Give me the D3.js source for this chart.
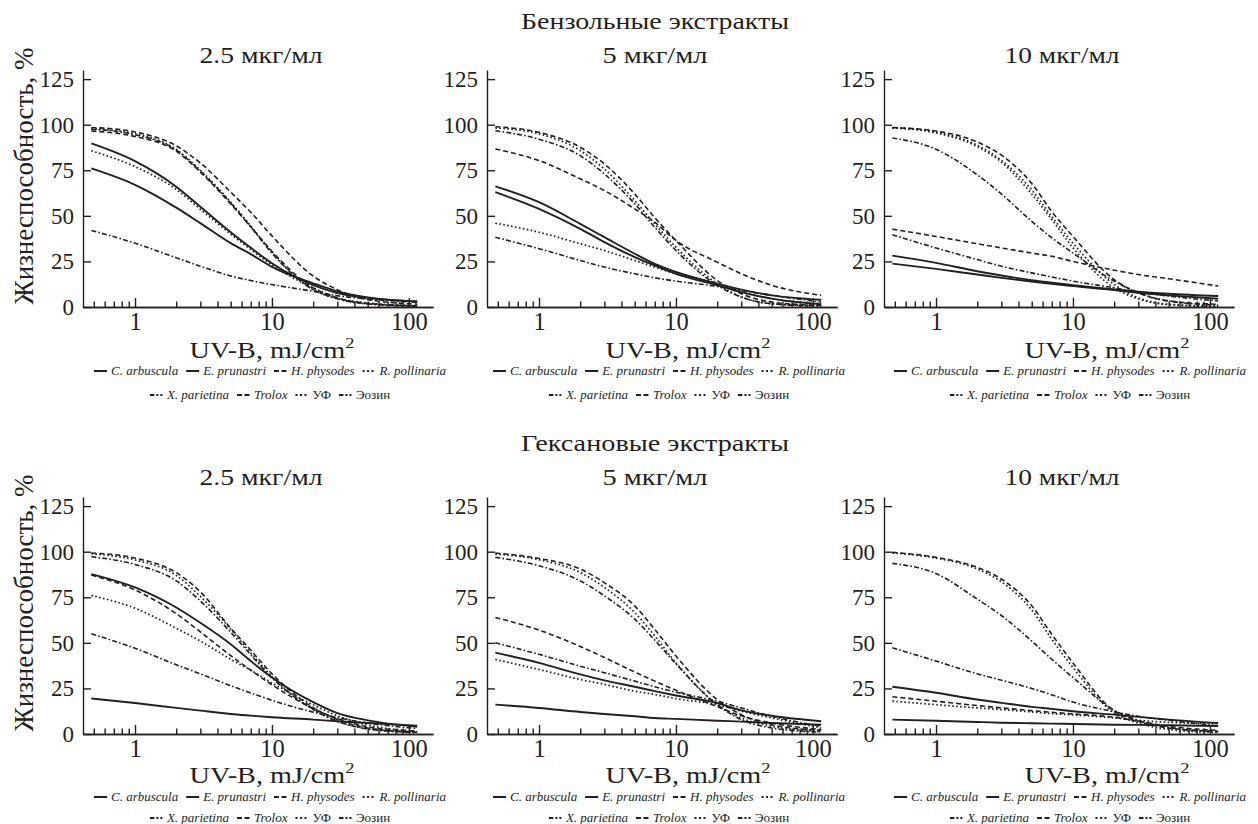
<!DOCTYPE html>
<html>
<head>
<meta charset="utf-8">
<script src="https://cdn.jsdelivr.net/npm/d3@7"></script>
<style>
  body { margin: 0; background: #fff; }
  svg { display: block; }
  text { font-family: "Liberation Serif", "Times New Roman", Times, serif; fill: #231f20; }
</style>
</head>
<body>
<svg id="chart" width="1258" height="824"></svg>
<script>
// ---------- data ----------
const doses = [0.48, 1, 2, 3, 5, 7, 10, 20, 30, 50, 115];   // UV-B, mJ/cm2
const seriesNames = ["C. arbuscula", "E. prunastri", "H. physodes", "R. pollinaria",
                     "X. parietina", "Trolox", "УФ", "Эозин"];
const groupTitles = ["Бензольные экстракты", "Гексановые экстракты"];
const concLabels = ["2.5 мкг/мл", "5 мкг/мл", "10 мкг/мл"];
const yTicks = [0, 25, 50, 75, 100, 125];
const xMajorTicks = [1, 10, 100];
const xMinorTicks = [0.5, 0.6, 0.7, 0.8, 0.9, 2, 3, 4, 5, 6, 7, 8, 9, 20, 30, 40, 50, 60, 70, 80, 90];

// viability, %, one row per series (order of seriesNames), one value per dose
const benzene25 = [
  [89.7, 80, 66, 55, 41, 32.5, 24, 12, 7.7, 5, 3],
  [76, 67, 54.5, 46, 35, 29, 22, 13, 8.6, 5.3, 3],
  [96.5, 93.5, 85.5, 74, 56.5, 44, 30.5, 10.5, 5, 2, 0.6],
  [85.7, 77, 64.5, 53.6, 40, 31.5, 23, 10.5, 5, 2.2, 0.7],
  [42, 35, 27, 22.4, 17, 14.5, 12.3, 8.6, 6.2, 4.4, 2.6],
  [98.5, 96, 88.4, 79, 63, 52, 39, 17, 9.5, 4, 1.6],
  [97.8, 95, 86.5, 75, 57.5, 44.5, 30, 9.5, 4.5, 1.7, 0.5],
  [97.5, 94.5, 86, 74.5, 57, 44, 29.5, 9.5, 4.5, 1.7, 0.5]
];
const benzene5 = [
  [66.2, 57.5, 45.6, 38.3, 29.2, 23.7, 19.2, 12.8, 9.5, 6.4, 4],
  [63, 53.8, 42.9, 35.6, 27.4, 22.8, 18.2, 11.9, 8.2, 4.6, 1.5],
  [86.7, 80.3, 70.3, 63.9, 53.8, 46.5, 36.5, 24.6, 18.2, 11.9, 6.4],
  [46, 41, 34.7, 31, 25.5, 21.9, 18.2, 12.8, 8.2, 4.6, 1.8],
  [38.3, 32, 25.5, 21.9, 18.2, 16, 14.2, 11.3, 9.1, 6.4, 2.7],
  [98.9, 95.8, 87.6, 78.5, 62, 49, 36.5, 14.6, 7.3, 2.7, 0.9],
  [98.2, 95, 85.8, 75.7, 58.4, 45.6, 32.8, 12.8, 5.5, 1.8, 0.5],
  [96.7, 92, 83, 73, 56.6, 43.8, 31, 11.9, 5.5, 1.8, 0.5]
];
const benzene10 = [
  [28.2, 24.2, 19.6, 17.3, 14.7, 13.3, 12, 9.6, 8.4, 7.3, 6],
  [23.8, 20.9, 17.8, 16, 14, 12.7, 11.5, 9.3, 7.8, 6.4, 4.5],
  [42.7, 38.7, 34.7, 32.4, 29.6, 27.8, 25, 20.2, 17.8, 15.5, 11.5],
  [98.2, 95.5, 88, 79.5, 62, 48, 32.5, 10.5, 4.5, 1.3, 0.4],
  [39.6, 32.4, 26, 22.4, 18.7, 16.5, 14.2, 10.5, 8.2, 6, 3.3],
  [98.4, 96.5, 90.5, 83.3, 67.8, 52.4, 38.7, 15, 7.8, 3.3, 1.5],
  [98.4, 96, 88.7, 80.5, 64.2, 49.6, 35, 12.4, 5, 1.5, 0.5],
  [92.7, 86.5, 72.5, 62, 47, 38, 29.6, 14.2, 7.8, 3.3, 1]
];
const hexane25 = [
  [87.7, 80.4, 69.4, 61, 49.2, 40, 31, 17.5, 11.5, 7.5, 4],
  [19.5, 17, 14.3, 12.8, 11, 10.1, 9.2, 7.9, 7, 6, 4.6],
  [87.2, 79, 66, 56, 43, 35, 27, 14, 8.5, 4, 1.5],
  [76, 69, 58, 51, 41, 35, 28, 16, 10, 5, 1.5],
  [55, 47, 38, 33, 26.5, 22.5, 18.5, 12, 9, 6, 3],
  [99.3, 96.5, 88.5, 78, 58, 46, 33, 14.5, 8, 3.3, 1],
  [98.8, 95.5, 87, 75.5, 57.5, 44.5, 31.5, 13.5, 7, 2.8, 0.8],
  [97.2, 93, 84, 73, 55.8, 43.5, 30.8, 13.5, 7, 2.8, 0.8]
];
const hexane5 = [
  [44.6, 39, 32.7, 29.4, 25.9, 23.5, 21.1, 17, 13, 10, 7],
  [16.1, 14.3, 12.1, 11, 9.7, 8.8, 8.3, 7.3, 6.8, 6, 5.1],
  [63.9, 57, 48, 42, 34, 29, 24, 15, 10, 6, 2.5],
  [40.9, 35.4, 29.9, 27.2, 23.5, 21.7, 19.4, 16.1, 12.5, 8.8, 3.3],
  [50, 43.7, 37.2, 33.6, 29, 25.9, 22.9, 18, 14.3, 9.7, 4.2],
  [99.3, 96.3, 90.5, 83, 70.3, 57.4, 42.8, 18.9, 10.6, 5, 2],
  [98.7, 95.6, 88.6, 80.4, 66.6, 53.8, 39, 16.1, 8.8, 4.2, 1.5],
  [96.9, 92.3, 84, 75.8, 63, 51.5, 38.5, 16.1, 7.9, 3.3, 1]
];
const hexane10 = [
  [25.9, 22.6, 18.9, 17.1, 14.9, 13.8, 12.5, 10.6, 9.4, 7.9, 6],
  [7.9, 7.3, 6.6, 6.2, 5.9, 5.7, 5.5, 5.1, 5, 4.8, 4.4],
  [20.4, 18, 15.6, 14.3, 12.8, 11.9, 11, 9.2, 7, 4.2, 2],
  [18, 16.1, 14.3, 13.4, 12.1, 11.2, 10.5, 8.8, 7.5, 6.4, 5.7],
  [47.3, 40, 33, 29.5, 25, 21.5, 17.5, 12.2, 9.7, 7.5, 4.5],
  [99.6, 96.9, 91.4, 85, 70.3, 54.7, 39, 12.5, 7, 3.3, 1.5],
  [99.3, 96.5, 90.5, 83.5, 68, 52, 36.5, 11.5, 6, 2.5, 0.8],
  [93.6, 88, 74, 65, 51, 41, 31, 13, 7.5, 3.5, 1.2]
];
const panelData = [[benzene25, benzene5, benzene10], [hexane25, hexane5, hexane10]];

// ---------- styles ----------
const ink = "#231f20";
const seriesDash = ["", "", "5,3", "1.6,2.4", "5,2.2,1.6,2.2", "5,3", "1.6,2.4", "5,2.2,1.6,2.2"];
const legendDash = ["", "", "5,2.5", "2,2.5", "4.5,2,2,2,2", "5,2.5", "2,2.5", "4.5,2,2,2,2"];
const seriesWidth = [1.9, 1.9, 1.6, 1.7, 1.6, 1.6, 1.7, 1.6];
const legendItalic = [true, true, true, true, true, true, false, false];

// ---------- layout ----------
const panelX = [83, 487, 884];          // y-axis position of each column
const axisW = 350;
const rowZero = [307, 734];             // pixel of 0 % in each row
const plotH = 237;                      // 0 ... 130 %
const rowShift = [0, 427];
const titleShift = [0, 422];
const xTitleY = [358, 783];
const legendRowY = [[375, 399], [801, 822]];
const subCenter = [178, 168, 178];
const xLabelCenter = [189, 201, 223];
const legendCenter = [187, 182, 186];

const svg = d3.select("#chart");

groupTitles.forEach((t, r) => {
  svg.append("text")
    .attr("x", 655).attr("y", 29 + titleShift[r])
    .attr("text-anchor", "middle")
    .attr("font-size", 23)
    .attr("textLength", 268).attr("lengthAdjust", "spacingAndGlyphs")
    .text(t);
});

for (let r = 0; r < 2; r++) {
  for (let c = 0; c < 3; c++) {
    const x0 = panelX[c];
    const x = d3.scaleLog().domain([0.417, 150]).range([x0, x0 + axisW]);
    const y = d3.scaleLinear().domain([0, 130]).range([rowZero[r], rowZero[r] - plotH]);
    const g = svg.append("g");

    // concentration subtitle
    g.append("text")
      .attr("x", x0 + subCenter[c]).attr("y", 63 + titleShift[r])
      .attr("text-anchor", "middle").attr("font-size", 24)
      .attr("textLength", [123, 105, 115][c]).attr("lengthAdjust", "spacingAndGlyphs")
      .text(concLabels[c]);

    // curves
    const line = d3.line()
      .x(d => x(d[0])).y(d => y(d[1]))
      .curve(d3.curveMonotoneX);
    panelData[r][c].forEach((vals, s) => {
      g.append("path")
        .datum(doses.map((d, i) => [d, vals[i]]))
        .attr("d", line)
        .attr("fill", "none")
        .attr("stroke", ink)
        .attr("stroke-width", seriesWidth[s])
        .attr("stroke-dasharray", seriesDash[s] || null);
    });

    // y axis
    const ya = g.append("g").attr("transform", `translate(${x0},0)`)
      .call(d3.axisLeft(y).tickValues(yTicks).tickSize(-8).tickSizeOuter(0).tickPadding(9));
    ya.attr("font-family", null);
    ya.selectAll("text").attr("font-size", 23).attr("fill", ink);

    // x axis: minor then major ticks
    const xm = g.append("g").attr("transform", `translate(0,${rowZero[r]})`)
      .call(d3.axisBottom(x).tickValues(xMinorTicks).tickSize(-5.5).tickSizeOuter(0).tickFormat(""));
    const xa = g.append("g").attr("transform", `translate(0,${rowZero[r]})`)
      .call(d3.axisBottom(x).tickValues(xMajorTicks).tickSize(-9).tickSizeOuter(0)
            .tickPadding(6).tickFormat(d3.format("d")));
    xa.attr("font-family", null);
    xa.selectAll("text").attr("font-size", 24.5).attr("fill", ink);
    [ya, xm, xa].forEach(a => {
      a.selectAll("path,line").attr("stroke", ink).attr("stroke-width", 1.4);
    });

    // x axis title
    const xl = g.append("text")
      .attr("x", x0 + xLabelCenter[c]).attr("y", xTitleY[r])
      .attr("text-anchor", "middle").attr("font-size", 23)
      .attr("textLength", 165).attr("lengthAdjust", "spacingAndGlyphs");
    xl.append("tspan").text("UV-B, mJ/cm");
    xl.append("tspan").attr("font-size", 15).attr("dy", -10).text("2");

    // y axis title, first column only
    if (c === 0) {
      g.append("text")
        .attr("transform", `translate(33,${176 + rowShift[r]}) rotate(-90)`)
        .attr("text-anchor", "middle").attr("font-size", 27)
        .text("Жизнеспособность, %");
    }

    // legend: two centred rows
    const rows = [[0, 1, 2, 3], [4, 5, 6, 7]];
    rows.forEach((items, li) => {
      const lg = g.append("g");
      let cx = 0;
      items.forEach(s => {
        lg.append("line")
          .attr("x1", cx).attr("x2", cx + 13)
          .attr("y1", -4).attr("y2", -4)
          .attr("stroke", ink).attr("stroke-width", 2)
          .attr("stroke-dasharray", legendDash[s] || null);
        cx += 17;
        const t = lg.append("text").attr("x", cx).attr("y", 0)
          .attr("font-size", 13)
          .attr("font-style", legendItalic[s] ? "italic" : "normal")
          .text(seriesNames[s]);
        cx += t.node().getComputedTextLength() + 8;
      });
      const w = cx - 8;
      lg.attr("transform", `translate(${x0 + legendCenter[c] - w / 2},${legendRowY[r][li]})`);
    });
  }
}
</script>
</body>
</html>
